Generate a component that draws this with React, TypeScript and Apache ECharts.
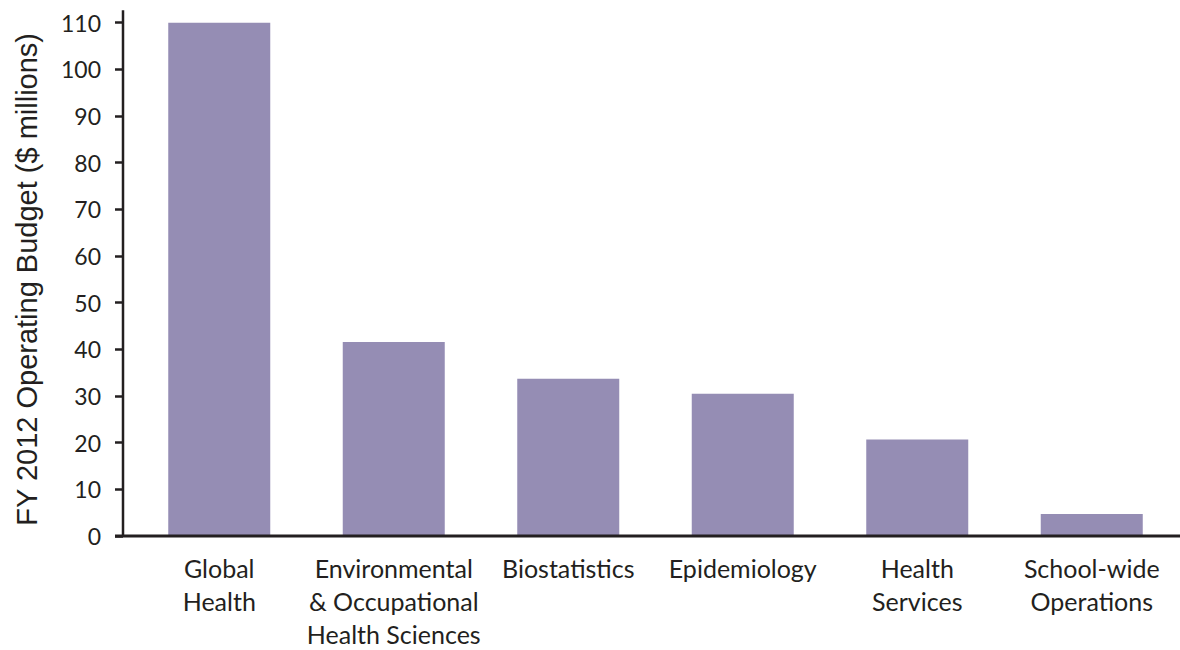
import React, { useEffect, useRef } from "react";
import * as echarts from "echarts";

const categories = [
  "Global\nHealth",
  "Environmental\n& Occupational\nHealth Sciences",
  "Biostatistics",
  "Epidemiology",
  "Health\nServices",
  "School-wide\nOperations",
];
const budget = [110, 41.6, 33.7, 30.5, 20.7, 4.7];
const yTicks = { min: 0, max: 110, interval: 10 };
const yTitle = "FY 2012 Operating Budget ($ millions)";

const FONT = "Lato, 'Noto Sans', sans-serif";
const TITLE_FONT = "'Liberation Sans', Arial, sans-serif";
const INK = "#231f20";

export default function App() {
  const ref = useRef<HTMLDivElement>(null);
  useEffect(() => {
    document.body.style.margin = "0";
    const chart = echarts.init(ref.current!, undefined, { renderer: "svg" });
    const gridLeft = 132;
    const gridTop = 22.7;
    const gridBottom = 112;
    const yAxisOffset = 9;
    chart.setOption({
      animation: false,
      grid: { left: gridLeft, right: 1, top: gridTop, bottom: gridBottom },
      xAxis: {
        type: "category",
        data: categories,
        axisLine: { show: false },
        axisTick: { show: false },
        axisLabel: {
          interval: 0,
          margin: 15,
          fontFamily: FONT,
          fontSize: 25,
          lineHeight: 33,
          color: INK,
        },
      },
      yAxis: {
        type: "value",
        min: yTicks.min,
        max: yTicks.max,
        interval: yTicks.interval,
        offset: yAxisOffset,
        splitLine: { show: false },
        axisLine: { show: false },
        axisTick: { show: true, length: 8, lineStyle: { color: INK, width: 2.5 } },
        axisLabel: { margin: 22, fontFamily: FONT, fontSize: 23, color: INK },
        name: yTitle,
        nameLocation: "middle",
        nameGap: 82,
        nameTextStyle: { fontFamily: TITLE_FONT, fontSize: 29, color: INK },
      },
      series: [
        {
          type: "bar",
          data: budget,
          barWidth: 102,
          itemStyle: { color: "#958db4" },
        },
      ],
    });
    const origin = chart.convertToPixel({ gridIndex: 0 }, [0, 0]) as number[];
    const top = chart.convertToPixel({ gridIndex: 0 }, [0, yTicks.max]) as number[];
    const y0 = origin[1];
    const axisX = gridLeft - yAxisOffset;
    chart.setOption({
      graphic: [
        {
          type: "line",
          shape: { x1: axisX, y1: top[1] - 12.5, x2: axisX, y2: y0 },
          style: { stroke: INK, lineWidth: 2.5 },
          z: 10,
        },
        {
          type: "line",
          shape: { x1: axisX - 8, y1: y0, x2: 1180, y2: y0 },
          style: { stroke: INK, lineWidth: 3 },
          z: 10,
        },
      ],
    });
    return () => chart.dispose();
  }, []);
  return <div ref={ref} style={{ width: 1180, height: 650 }} />;
}
